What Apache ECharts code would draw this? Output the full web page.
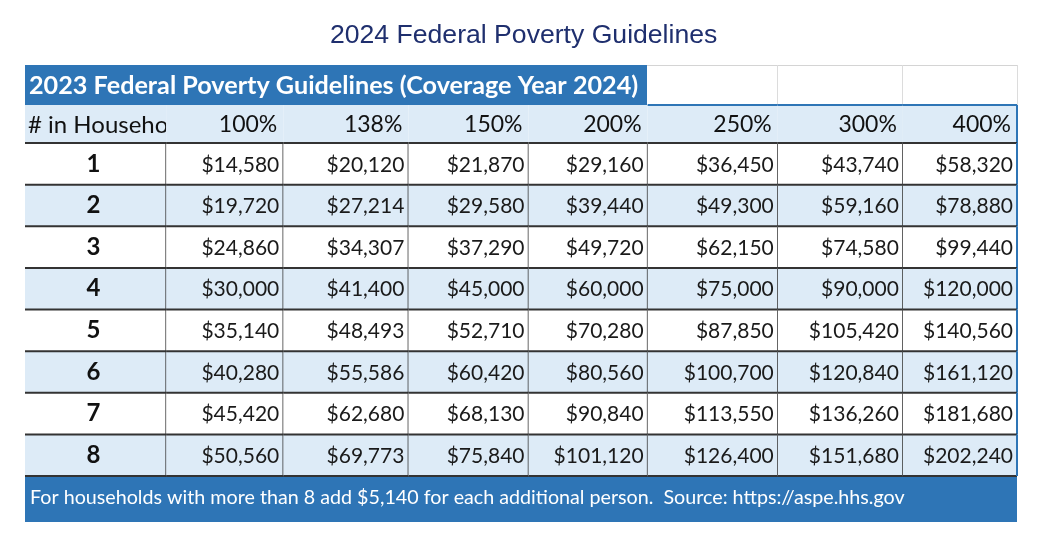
<!DOCTYPE html>
<html><head><meta charset="utf-8">
<script src="https://cdn.jsdelivr.net/npm/echarts@6/dist/echarts.min.js"></script>
<style>html,body{margin:0;padding:0;background:#fff}#c{width:1057px;height:554px}</style>
</head><body><div id="c"></div>
<script>
// ---------- data ----------
const chartTitle = '2024 Federal Poverty Guidelines';
const tableTitle = '2023 Federal Poverty Guidelines (Coverage Year 2024)';
const footnote = 'For households with more than 8 add $5,140 for each additional person.  Source: https://aspe.hhs.gov';
const rowHeader = '# in Household';
const povertyLevels = ['100%', '138%', '150%', '200%', '250%', '300%', '400%'];
const householdSizes = ['1', '2', '3', '4', '5', '6', '7', '8'];
const fpl100 = [14580, 19720, 24860, 30000, 35140, 40280, 45420, 50560];
const fpl138 = [20120, 27214, 34307, 41400, 48493, 55586, 62680, 69773];
const fpl150 = [21870, 29580, 37290, 45000, 52710, 60420, 68130, 75840];
const fpl200 = [29160, 39440, 49720, 60000, 70280, 80560, 90840, 101120];
const fpl250 = [36450, 49300, 62150, 75000, 87850, 100700, 113550, 126400];
const fpl300 = [43740, 59160, 74580, 90000, 105420, 120840, 136260, 151680];
const fpl400 = [58320, 78880, 99440, 120000, 140560, 161120, 181680, 202240];
const seriesValues = [fpl100, fpl138, fpl150, fpl200, fpl250, fpl300, fpl400];

// ---------- layout / style ----------
const COL_WIDTHS = [141, 117, 125, 120, 119, 130, 125, 114];
const colEdges = [0];
COL_WIDTHS.forEach(w => colEdges.push(colEdges[colEdges.length - 1] + w));
const TOTAL_W = colEdges[colEdges.length - 1];
const HEADER_H = 38;
const BLUE = '#2e75b6';
const LIGHT = '#ddebf7';
const LINE = '#333333';
const FONT = 'Lato, "Open Sans", sans-serif';

const fmt = v => '$' + v.toLocaleString('en-US');

const cells = [];
cells.push({ value: [0, 0], kind: 'hdrFirst', text: rowHeader });
povertyLevels.forEach((p, i) => cells.push({ value: [i + 1, 0], kind: 'hdr', text: p }));
householdSizes.forEach((h, r) => {
  cells.push({ value: [0, r], kind: 'rowName', text: h });
  seriesValues.forEach((arr, c) => cells.push({ value: [c + 1, r], kind: 'val', text: fmt(arr[r]) }));
});

function renderItem(params, api) {
  const cell = cells[params.dataIndex];
  const col = api.value(0), row = api.value(1);
  const pL = api.coord([colEdges[col], row]);
  const pR = api.coord([colEdges[col + 1], row]);
  const rowH = api.size([0, 1])[1];
  const x0 = pL[0], x1 = pR[0];
  const isHdr = cell.kind === 'hdr' || cell.kind === 'hdrFirst';
  let yTop, h;
  if (isHdr) { yTop = pL[1] - rowH / 2 - HEADER_H; h = HEADER_H; }
  else { yTop = pL[1] - rowH / 2; h = rowH; }
  const yMid = yTop + h / 2;
  const children = [];
  const fill = isHdr ? LIGHT : (row % 2 === 1 ? LIGHT : '#ffffff');
  children.push({ type: 'rect', shape: { x: x0, y: yTop, width: x1 - x0, height: h }, style: { fill: fill } });
  if (isHdr) {
    if (col >= 5) children.push({ type: 'line', shape: { x1: x0, y1: yTop, x2: x1, y2: yTop }, style: { stroke: BLUE, lineWidth: 2 } });
    if (col === 7) children.push({ type: 'line', shape: { x1: x1, y1: yTop, x2: x1, y2: yTop + h }, style: { stroke: BLUE, lineWidth: 2 } });
    if (cell.kind === 'hdrFirst') {
      children.push({
        type: 'group',
        clipPath: { type: 'rect', shape: { x: x0, y: yTop, width: x1 - x0, height: h } },
        children: [{ type: 'text', style: { x: x0 + 3, y: yMid + 1, text: cell.text, align: 'left', verticalAlign: 'middle', fill: '#111', font: '400 24px ' + FONT } }]
      });
    } else {
      children.push({ type: 'text', style: { x: x1 - 6, y: yMid + 1, text: cell.text, align: 'right', verticalAlign: 'middle', fill: '#111', font: '400 23px ' + FONT } });
    }
  } else {
    if (cell.kind === 'rowName') {
      children.push({ type: 'text', style: { x: (x0 + x1) / 2 - 2, y: yMid, text: cell.text, align: 'center', verticalAlign: 'middle', fill: '#111', font: '700 24px ' + FONT } });
    } else {
      children.push({ type: 'text', style: { x: x1 - 4, y: yMid + 1, text: cell.text, align: 'right', verticalAlign: 'middle', fill: '#1a1a1a', font: '400 21px ' + FONT } });
    }
    children.push({ type: 'line', shape: { x1: x0, y1: yTop, x2: x1, y2: yTop }, style: { stroke: LINE, lineWidth: 2 } });
    if (row === householdSizes.length - 1) children.push({ type: 'line', shape: { x1: x0, y1: yTop + h, x2: x1, y2: yTop + h }, style: { stroke: LINE, lineWidth: 2 } });
    if (col < 7) children.push({ type: 'line', shape: { x1: x1, y1: yTop, x2: x1, y2: yTop + h }, style: { stroke: LINE, lineWidth: 1.5 } });
    else children.push({ type: 'line', shape: { x1: x1, y1: yTop, x2: x1, y2: yTop + h }, style: { stroke: BLUE, lineWidth: 2 } });
  }
  return { type: 'group', children: children };
}

const chart = echarts.init(document.getElementById('c'), null, { renderer: 'canvas' });
chart.setOption({
  backgroundColor: '#ffffff',
  animation: false,
  title: {
    text: chartTitle, left: 325, top: 17,
    textStyle: { fontFamily: '"Liberation Sans", Arial, sans-serif', fontWeight: 'normal', fontSize: 26.6, color: '#1f2f6e' }
  },
  grid: { left: 25, right: 1057 - 25 - 992, top: 143, bottom: 554 - 476 },
  xAxis: { type: 'value', min: 0, max: TOTAL_W, show: false },
  yAxis: { type: 'category', data: householdSizes, inverse: true, show: false },
  graphic: [
    { type: 'line', shape: { x1: 647, y1: 65.5, x2: 1017, y2: 65.5 }, style: { stroke: '#d4d4d4', lineWidth: 1 } },
    { type: 'line', shape: { x1: 777.5, y1: 65, x2: 777.5, y2: 105 }, style: { stroke: '#dcdcdc', lineWidth: 1 } },
    { type: 'line', shape: { x1: 902.5, y1: 65, x2: 902.5, y2: 105 }, style: { stroke: '#dcdcdc', lineWidth: 1 } },
    { type: 'line', shape: { x1: 1017.5, y1: 65, x2: 1017.5, y2: 105 }, style: { stroke: '#dcdcdc', lineWidth: 1 } },
    { type: 'rect', shape: { x: 25, y: 65, width: 622, height: 40 }, style: { fill: BLUE } },
    { type: 'text', style: { x: 29, y: 86, text: tableTitle, fill: '#ffffff', font: '700 25.2px ' + FONT, verticalAlign: 'middle' } },
    { type: 'rect', shape: { x: 25, y: 476, width: 992, height: 46 }, style: { fill: BLUE } },
    { type: 'text', style: { x: 30, y: 498, text: footnote, fill: '#ffffff', font: '400 19.7px ' + FONT, verticalAlign: 'middle' } }
  ],
  series: [{
    type: 'custom',
    renderItem: renderItem,
    data: cells,
    encode: { x: 0, y: 1 },
    clip: false
  }]
});
</script>
</body></html>
